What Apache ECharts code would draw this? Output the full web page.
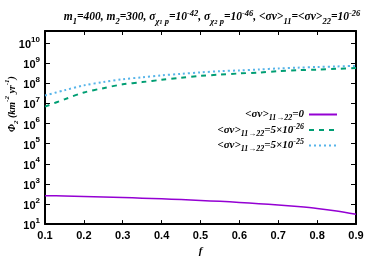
<!DOCTYPE html>
<html><head><meta charset="utf-8">
<script src="https://cdn.jsdelivr.net/npm/echarts@6/dist/echarts.min.js"></script>
<style>html,body{margin:0;padding:0;background:#fff}#c{width:374px;height:262px}</style>
</head><body><div id="c"></div>
<script>
const fVals = [0.1,0.15,0.2,0.25,0.3,0.35,0.4,0.45,0.5,0.55,0.6,0.65,0.7,0.75,0.8,0.85,0.9];
const phiZero = [260,250,238,225,210,195,180,165,150,135,120,104,88,74,60,45,31];
const phi5e26 = [6.9e6,1.6e7,3.5e7,5.75e7,8.9e7,1.15e8,1.5e8,1.9e8,2.35e8,2.7e8,3.1e8,3.45e8,4.0e8,4.5e8,4.8e8,5.25e8,5.75e8];
const phi5e25 = [2.5e7,4.5e7,7.9e7,1.15e8,1.6e8,2.0e8,2.5e8,2.95e8,3.5e8,4.0e8,4.4e8,4.9e8,5.5e8,6.0e8,6.5e8,6.9e8,7.4e8];
const xTicks = [0.1,0.2,0.3,0.4,0.5,0.6,0.7,0.8,0.9];
const yTickExps = [1,2,3,4,5,6,7,8,9,10];
const seriesNames = ['zero','s26','s25'];

const serif = 'Liberation Serif';
const sans = 'Liberation Sans';
const chart = echarts.init(document.getElementById('c'));

const tickRich = {
  b:{fontFamily:sans,fontWeight:'bold',fontSize:11,color:'#000',verticalAlign:'bottom',lineHeight:15},
  s:{fontFamily:sans,fontWeight:'bold',fontSize:8,color:'#000',verticalAlign:'top',lineHeight:15}
};
const serifRich = (sz, lh) => ({
  n:{fontFamily:serif,fontStyle:'italic',fontWeight:'bold',fontSize:sz,color:'#000',verticalAlign:'middle',lineHeight:lh},
  sub:{fontFamily:serif,fontStyle:'italic',fontWeight:'bold',fontSize:sz-3,color:'#000',verticalAlign:'bottom',lineHeight:lh},
  ssub:{fontFamily:serif,fontStyle:'italic',fontWeight:'bold',fontSize:sz-5,color:'#000',verticalAlign:'bottom',lineHeight:lh},
  sup:{fontFamily:serif,fontStyle:'italic',fontWeight:'bold',fontSize:sz-3,color:'#000',verticalAlign:'top',lineHeight:lh}
});

const legendText = {
  zero:'{n|<σv>}{sub|11→22}{n|=0}',
  s26:'{n|<σv>}{sub|11→22}{n|=5×10}{sup|-26}',
  s25:'{n|<σv>}{sub|11→22}{n|=5×10}{sup|-25}'
};

const axisLineStyle = {color:'#000',width:2};
function mk(arr){ return fVals.map((f,i)=>[f,arr[i]]); }

chart.setOption({
  animation:false,
  backgroundColor:'#fff',
  title:{
    text:'{n|m}{sub|1}{n|=400, m}{sub|2}{n|=300, σ}{sub|χ}{ssub|1}{sub| p}{n|=10}{sup|-42}{n|, σ}{sub|χ}{ssub|2}{sub| p}{n|=10}{sup|-46}{n|, <σv>}{sub|11}{n|=<σv>}{sub|22}{n|=10}{sup|-26}',
    left:207, top:4, textAlign:'center',
    textStyle:{rich:serifRich(11.5,17)}
  },
  grid:{left:45,right:18,top:31,bottom:34},
  legend:{
    orient:'vertical', right:31, top:104, align:'right',
    itemWidth:28, itemHeight:10, itemGap:0.5,
    itemStyle:{opacity:0},
    data:seriesNames,
    formatter:(n)=>legendText[n],
    textStyle:{rich:serifRich(11,15)}
  },
  xAxis:[{
    type:'value', min:0.1, max:0.9, interval:0.1, position:'bottom',
    axisLine:{lineStyle:axisLineStyle}, splitLine:{show:false},
    axisTick:{inside:true,length:4,lineStyle:{color:'#000',width:1}},
    axisLabel:{fontFamily:sans,fontWeight:'bold',fontSize:11,color:'#000',margin:6,formatter:(v)=>v.toFixed(1)},
    name:'f', nameLocation:'middle', nameGap:21,
    nameTextStyle:{fontFamily:serif,fontStyle:'italic',fontWeight:'bold',fontSize:11,color:'#000'}
  },{
    type:'value', min:0.1, max:0.9, interval:0.1, position:'top',
    axisLine:{lineStyle:axisLineStyle}, splitLine:{show:false},
    axisTick:{inside:true,length:4,lineStyle:{color:'#000',width:1}},
    axisLabel:{show:false}
  }],
  yAxis:[{
    type:'log', logBase:10, min:10, max:4e10, splitNumber:10, position:'left',
    axisLine:{show:true,lineStyle:axisLineStyle}, splitLine:{show:false},
    axisTick:{inside:true,length:5,lineStyle:{color:'#000',width:1}},
    axisLabel:{margin:5,showMaxLabel:false,rich:tickRich,formatter:(v)=>{
      const e=Math.log10(v); const r=Math.round(e);
      if(Math.abs(e-r)>0.01 || yTickExps.indexOf(r)<0) return '';
      return '{b|10}{s|'+r+'}';
    }}
  },{
    type:'log', logBase:10, min:10, max:4e10, splitNumber:10, position:'right',
    axisLine:{show:true,lineStyle:axisLineStyle}, splitLine:{show:false},
    axisTick:{inside:true,length:5,lineStyle:{color:'#000',width:1}},
    axisLabel:{show:false}
  }],
  graphic:[{
    type:'text', x:12, y:104, rotation:Math.PI/2,
    style:{
      text:'{n|Φ}{sub|2}{n| (km}{sup|-2}{n| yr}{sup|-1}{n|)}',
      rich:serifRich(10,16), align:'center', verticalAlign:'middle'
    }
  }],
  series:[
    {name:'zero',type:'line',symbol:'none',smooth:0.3,data:mk(phiZero),
      lineStyle:{color:'#9400d3',width:1.5,type:'solid'},itemStyle:{color:'#9400d3'}},
    {name:'s26',type:'line',symbol:'none',smooth:0.3,data:mk(phi5e26),
      lineStyle:{color:'#009e73',width:2,type:[5,5]},itemStyle:{color:'#009e73'}},
    {name:'s25',type:'line',symbol:'none',smooth:0.3,data:mk(phi5e25),
      lineStyle:{color:'#56b4e9',width:2,type:[2,3]},itemStyle:{color:'#56b4e9'}}
  ]
});
</script></body></html>
